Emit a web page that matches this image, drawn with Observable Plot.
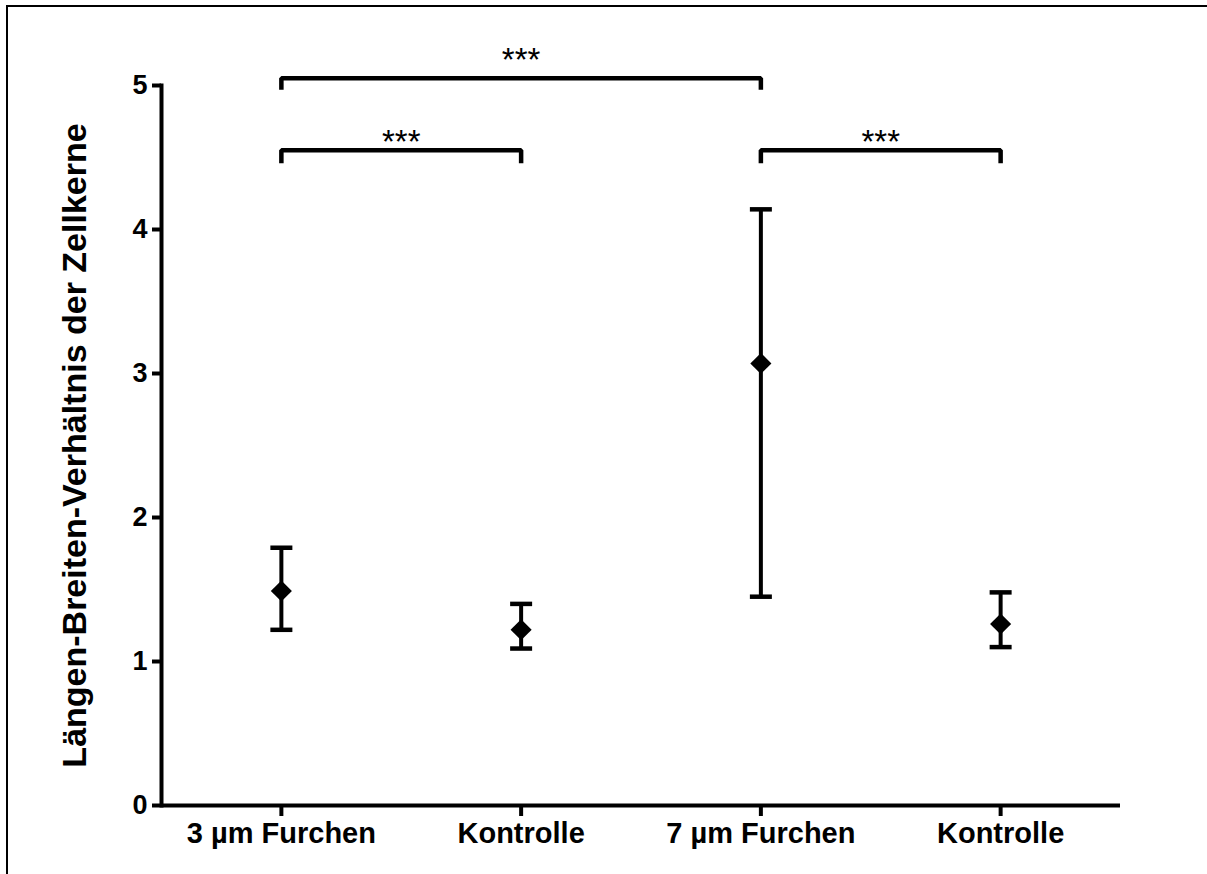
<!DOCTYPE html>
<html><head><meta charset="utf-8">
<script src="https://cdn.jsdelivr.net/npm/d3@7"></script>
<script src="https://cdn.jsdelivr.net/npm/@observablehq/plot@0.6"></script>
<style>
body{margin:0;background:#fff;}
#wrap{position:relative;width:1207px;height:874px;overflow:hidden;background:#fff;}
#border{position:absolute;left:6px;top:5px;width:1220px;height:890px;border-left:2px solid #000;border-top:2px solid #000;pointer-events:none;}
#chart{position:absolute;left:0;top:0;}
</style></head><body>
<div id="wrap"><div id="chart"></div><div id="border"></div></div>
<script>
// categories and values
const groups = ["3 µm Furchen", "Kontrolle", "7 µm Furchen", "Kontrolle"];
const means  = [1.49, 1.22, 3.07, 1.26];
const lows   = [1.22, 1.09, 1.45, 1.10];
const highs  = [1.79, 1.40, 4.14, 1.48];
const yTicks = [0, 1, 2, 3, 4, 5];
const yTitle = "Längen-Breiten-Verhältnis der Zellkerne";
// significance brackets (category index 1..4)
const sigFrom   = [1, 1, 3];
const sigTo     = [3, 2, 4];
const sigLevel  = [5.05, 4.55, 4.55];
const sigFoot   = [4.97, 4.46, 4.46];
const sigLabelY = [5.23, 4.66, 4.66];
const sigLabel  = ["***", "***", "***"];

const rows = groups.map((g, i) => ({pos: i + 1, label: g, mean: means[i], low: lows[i], high: highs[i]}));
const sigRows = sigFrom.map((f, k) => ({k, from: f, to: sigTo[k], level: sigLevel[k], foot: sigFoot[k], ly: sigLabelY[k], label: sigLabel[k]}));
const bracketPts = sigRows.flatMap(s => [
  {k: s.k, x: s.from, y: s.foot},
  {k: s.k, x: s.from, y: s.level},
  {k: s.k, x: s.to, y: s.level},
  {k: s.k, x: s.to, y: s.foot}
]);

const capSymbol = {
  draw(context, size) {
    const w = Math.sqrt(size / Math.PI);
    context.moveTo(-w, 0);
    context.lineTo(w, 0);
  }
};

const chart = Plot.plot({
  width: 1207,
  height: 874,
  marginLeft: 161,
  marginRight: 87,
  marginTop: 85,
  marginBottom: 69,
  style: {fontFamily: "'Liberation Sans', Arial, sans-serif", background: "transparent", color: "#000", overflow: "visible"},
  x: {domain: [0.5, 4.5], axis: null},
  y: {domain: [0, 5], axis: null},
  marks: [
    Plot.axisY(yTicks, {anchor: "left", tickSize: 9, tickPadding: 5, strokeWidth: 4, fontSize: 27, fontWeight: "bold", label: null, tickFormat: d => String(d)}),
    Plot.axisX(rows.map(d => d.pos), {anchor: "bottom", tickSize: 11, tickPadding: 6, strokeWidth: 4, fontSize: 29, fontWeight: "bold", label: null, tickFormat: p => groups[p - 1]}),
    Plot.ruleY([0], {strokeWidth: 4}),
    Plot.frame({anchor: "left", strokeWidth: 4}),
    Plot.ruleX(rows, {x: "pos", y1: "low", y2: "high", strokeWidth: 4}),
    Plot.dot(rows, {x: "pos", y: "low", r: 11, symbol: capSymbol, stroke: "#000", strokeWidth: 4.5, fill: "none"}),
    Plot.dot(rows, {x: "pos", y: "high", r: 11, symbol: capSymbol, stroke: "#000", strokeWidth: 4.5, fill: "none"}),
    Plot.dot(rows, {x: "pos", y: "mean", r: 9.5, symbol: "diamond2", fill: "#000", stroke: "none"}),
    Plot.line(bracketPts, {x: "x", y: "y", z: "k", stroke: "#000", strokeWidth: 4.5, strokeLinecap: "butt", strokeLinejoin: "miter"}),
    Plot.text(sigRows, {x: d => (d.from + d.to) / 2, y: "ly", text: "label", fontSize: 33, dy: 8, fill: "#000"}),
    Plot.text([yTitle], {frameAnchor: "left", dx: -86, rotate: -90, textAnchor: "middle", fontSize: 34, fontWeight: "bold", text: d => d, fill: "#000"})
  ]
});
document.getElementById("chart").appendChild(chart);
</script>
</body></html>
